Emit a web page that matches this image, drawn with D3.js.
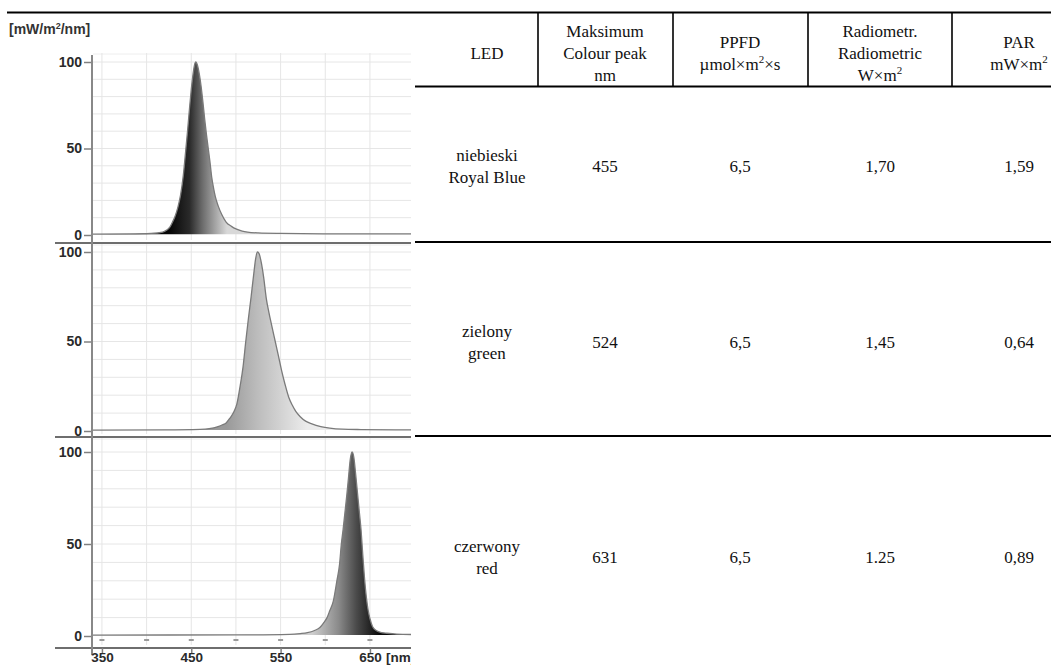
<!DOCTYPE html>
<meta charset="utf-8">
<script src="https://d3js.org/d3.v7.min.js"></script>
<style>
  body { margin: 0; background: #fff; }
  svg { display: block; }
</style>
<div id="chart"></div>
<script>
// spectra: wavelength [nm] / relative irradiance
var blueNm  = [340,380,405,418,423,426,429,432,435,438,441,444,446,448,450,452,454,455,457,459,461,463,465,467,469,471,473,475,477,480,484,489,495,500,507,513,525,550,600,700];
var blueVal = [0.5,0.6,0.9,1.7,3,4.5,7.5,11,16,23,34,50,61,73,84,93,99,100,98,93,86,77,67,58,50,42,33,27,22,17,12,7.5,5,3.5,2.3,1.7,1.2,0.9,0.7,0.6];

var greenNm  = [340,420,460,470,480,485,489,493,498,501,505,508,511,514,517,520,522,524,526,528,531,534,537,540,544,548,551,555,559,563,567,572,578,585,595,605,619,640,700];
var greenVal = [0.5,0.6,0.9,1.3,2.5,3.5,4.5,7,11,15,26,36,50,63,75,88,96,100,99,95,86,74,66,59,50,41,34,26,19,14.5,11,8,5.5,4,2.5,1.6,1,0.8,0.6];

var redNm  = [340,500,560,572,580,588,594,598,602,605,609,613,616,618,620,622,624,626,628,630,632,634,636,638,640,642,644,646,648,650,653,657,662,669,680,700];
var redVal = [0.5,0.6,0.9,1.3,1.8,3,4.6,7,10,13.7,19,30,39,50,58,67,76,86,96,100,97,88,78,68,58,44,31,21,14,9.5,5,3,2,1.5,1,0.8];

var xTicks = [350, 450, 550, 650];
var yTicks = [0, 50, 100];

// table
var headLines = [["LED"], ["Maksimum", "Colour peak", "nm"], ["PPFD", "µmol×m^2×s"],
                 ["Radiometr.", "Radiometric", "W×m^2"], ["PAR", "mW×m^2"]];
var ledPl = ["niebieski", "zielony", "czerwony"];
var ledEn = ["Royal Blue", "green", "red"];
var peakNm = ["455", "524", "631"];
var ppfd = ["6,5", "6,5", "6,5"];
var radiometric = ["1,70", "1,45", "1.25"];
var par = ["1,59", "0,64", "0,89"];

var width = 1051, height = 666;
var sans = "'Liberation Sans', Arial, sans-serif";
var serif = "'Liberation Serif', 'Times New Roman', serif";

var svg = d3.select("#chart").append("svg")
  .attr("width", width)
  .attr("height", height);

var defs = svg.append("defs");
defs.append("clipPath").attr("id", "plotclip")
  .append("rect").attr("x", 0).attr("y", 0).attr("width", 411).attr("height", height);

var x = d3.scaleLinear().domain([340, 700]).range([93, 414.6]);

// one entry per panel (layout only)
var panels = [
  {id: "blue",  nm: blueNm,  val: blueVal,  top: 53,  bottom: 243, y0: 235, y100: 62,
   grad: [[425, "#050505"], [448, "#2a2a2a"], [462, "#6a6a6a"], [490, "#d8d8d8"]]},
  {id: "green", nm: greenNm, val: greenVal, top: 244, bottom: 437, y0: 431, y100: 252,
   grad: [[490, "#9a9a9a"], [525, "#bdbdbd"], [580, "#ececec"]]},
  {id: "red",   nm: redNm,   val: redVal,   top: 438, bottom: 648, y0: 636, y100: 452,
   grad: [[585, "#cfcfcf"], [615, "#8a8a8a"], [635, "#4a4a4a"], [660, "#0a0a0a"]]}
];

var chart = svg.append("g").attr("clip-path", "url(#plotclip)");

panels.forEach(function(p) {
  var y = d3.scaleLinear().domain([0, 100]).range([p.y0, p.y100]);
  var g = chart.append("g");

  // light grid
  var hv = d3.range(10, 101, 10).filter(function(v) { return y(v) > p.top; });
  g.selectAll(".hg").data(hv).enter().append("line")
    .attr("x1", 93).attr("x2", 414)
    .attr("y1", function(d) { return y(d); }).attr("y2", function(d) { return y(d); })
    .style("stroke", "#e6e6e6").style("stroke-width", 1);
  g.append("line").attr("x1", 93).attr("x2", 414).attr("y1", p.top + 1).attr("y2", p.top + 1)
    .style("stroke", "#eeeeee");
  g.selectAll(".vg").data(d3.range(350, 701, 50)).enter().append("line")
    .attr("x1", function(d) { return x(d); }).attr("x2", function(d) { return x(d); })
    .attr("y1", p.top).attr("y2", p.bottom - 3)
    .style("stroke", "#e6e6e6").style("stroke-width", 1);

  // gradient for the peak
  var lg = defs.append("linearGradient").attr("id", "grad-" + p.id)
    .attr("gradientUnits", "userSpaceOnUse")
    .attr("x1", x(p.grad[0][0])).attr("x2", x(p.grad[p.grad.length - 1][0]))
    .attr("y1", 0).attr("y2", 0);
  var span = p.grad[p.grad.length - 1][0] - p.grad[0][0];
  p.grad.forEach(function(s) {
    lg.append("stop").attr("offset", ((s[0] - p.grad[0][0]) / span * 100) + "%")
      .attr("stop-color", s[1]);
  });

  var pts = p.nm.map(function(n, i) { return [n, p.val[i]]; });
  var area = d3.area()
    .x(function(d) { return x(d[0]); })
    .y0(y(0.5))
    .y1(function(d) { return y(d[1]); })
    .curve(d3.curveMonotoneX);
  var line = d3.line()
    .x(function(d) { return x(d[0]); })
    .y(function(d) { return y(d[1]); })
    .curve(d3.curveMonotoneX);

  g.append("path").datum(pts).attr("d", area)
    .style("fill", "url(#grad-" + p.id + ")");
  g.append("path").datum(pts).attr("d", line)
    .style("fill", "none").style("stroke", "#7a7a7a").style("stroke-width", 1.3);

  // y ticks and labels
  var ya = g.append("g").attr("transform", "translate(92,0)")
    .call(d3.axisLeft(y).tickValues(yTicks).tickSize(8).tickPadding(2));
  ya.select(".domain").remove();
  ya.selectAll("line").style("stroke", "#808080").style("stroke-width", 1.5);
  ya.selectAll("text").style("font-family", sans).style("font-weight", "bold")
    .style("font-size", "14px").style("fill", "#2a2a2a");

  // panel bottom rule
  g.append("line").attr("x1", 55).attr("x2", 414).attr("y1", p.bottom).attr("y2", p.bottom)
    .style("stroke", "#6e6e6e").style("stroke-width", 2.2);
});

// continuous y axis line
chart.append("line").attr("x1", 92).attr("x2", 92).attr("y1", 55).attr("y2", 655)
  .style("stroke", "#888").style("stroke-width", 2);

// small markers under the last panel
chart.selectAll(".mk").data(d3.range(350, 651, 50)).enter().append("line")
  .attr("x1", function(d) { return x(d) - 2.5; }).attr("x2", function(d) { return x(d) + 2.5; })
  .attr("y1", 640).attr("y2", 640)
  .style("stroke", "#9a9a9a").style("stroke-width", 2);

// x axis (labels sit at the very bottom edge, as in the scan)
var xa = chart.append("g").attr("transform", "translate(0,648)")
  .call(d3.axisBottom(x).tickValues(xTicks).tickSize(6).tickPadding(0));
xa.select(".domain").remove();
xa.selectAll("line").style("stroke", "#808080").style("stroke-width", 1.5);
xa.selectAll("text").attr("dy", "0.6em").style("font-family", sans).style("font-weight", "bold")
  .style("font-size", "13.5px").style("fill", "#2a2a2a");
chart.append("text").attr("x", x(650) + 16).attr("y", 662)
  .style("font-family", sans).style("font-weight", "bold").style("font-size", "13.5px")
  .style("fill", "#2a2a2a").text("[nm]");

// unit label
var ul = svg.append("text").attr("x", 9).attr("y", 34)
  .style("font-family", sans).style("font-weight", "bold").style("font-size", "14px")
  .style("fill", "#333");
ul.append("tspan").text("[mW/m");
ul.append("tspan").attr("dy", -5).style("font-size", "9px").text("2");
ul.append("tspan").attr("dy", 5).text("/nm]");

// ---- table ----
var colX = [487, 605, 740, 880, 1019];
var sepX = [538, 673, 808, 952];
var tab = svg.append("g").style("font-family", serif).style("fill", "#111");

function addText(sel, str, xx, yy, size) {
  var t = sel.append("text").attr("x", xx).attr("y", yy).attr("text-anchor", "middle")
    .style("font-size", size + "px");
  var parts = str.split("^");
  t.append("tspan").text(parts[0]);
  if (parts.length > 1) {
    t.append("tspan").attr("dy", -7).style("font-size", "11px").text(parts[1].charAt(0));
    if (parts[1].length > 1) t.append("tspan").attr("dy", 7).text(parts[1].slice(1));
  }
}

tab.append("line").attr("x1", 7).attr("x2", width).attr("y1", 12.5).attr("y2", 12.5)
  .style("stroke", "#000").style("stroke-width", 2.2);
tab.append("line").attr("x1", 415).attr("x2", width).attr("y1", 86.5).attr("y2", 86.5)
  .style("stroke", "#000").style("stroke-width", 2.2);
[242, 436].forEach(function(yy) {
  tab.append("line").attr("x1", 415).attr("x2", width).attr("y1", yy).attr("y2", yy)
    .style("stroke", "#000").style("stroke-width", 2.2);
});
sepX.forEach(function(xx) {
  tab.append("line").attr("x1", xx).attr("x2", xx).attr("y1", 13).attr("y2", 86)
    .style("stroke", "#000").style("stroke-width", 1.6);
});

headLines.forEach(function(lines, c) {
  lines.forEach(function(s, i) {
    addText(tab, s, colX[c], 59 + (i - (lines.length - 1) / 2) * 22, 17);
  });
});

var rowMid = [166, 342, 557];
ledPl.forEach(function(n, r) {
  var m = rowMid[r];
  addText(tab, n, colX[0], m - 5, 17);
  addText(tab, ledEn[r], colX[0], m + 17, 17);
  [peakNm[r], ppfd[r], radiometric[r], par[r]].forEach(function(v, c) {
    addText(tab, v, colX[c + 1], m + 6, 17);
  });
});
</script>
